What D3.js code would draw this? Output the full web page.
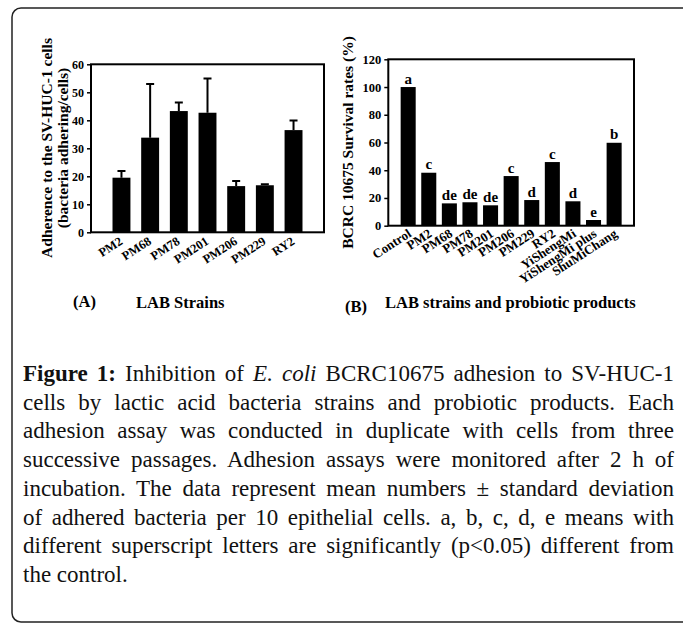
<!DOCTYPE html>
<html>
<head>
<meta charset="utf-8">
<script src="https://cdn.jsdelivr.net/npm/d3@7"></script>
<style>
  body { margin: 0; background: #fff; }
  svg text { font-family: "Liberation Serif", "Times New Roman", serif; }
</style>
</head>
<body>
<svg id="fig" width="683" height="625"></svg>
<script>
// panel A: adherence of LAB strains
const strainsA = ['PM2', 'PM68', 'PM78', 'PM201', 'PM206', 'PM229', 'RY2'];
const adherence = [19.5, 33.8, 43.3, 42.7, 16.5, 16.8, 36.5];
const adherenceSD = [2.4, 19.2, 3.1, 12.2, 1.8, 0.4, 3.4];
const ticksA = [0, 10, 20, 30, 40, 50, 60];

// panel B: survival rates
const productsB = ['Control', 'PM2', 'PM68', 'PM78', 'PM201', 'PM206', 'PM229', 'RY2',
  'YiShengMi', 'YiShengMi plus', 'ShuMiChang'];
const survival = [100, 38.2, 16.1, 16.9, 14.7, 35.8, 18.5, 45.9, 17.6, 4.1, 59.8];
const groupLetters = ['a', 'c', 'de', 'de', 'de', 'c', 'd', 'c', 'd', 'e', 'b'];
const ticksB = [0, 20, 40, 60, 80, 100, 120];

// caption, one entry per printed line
const captionLines = [
  [['b', 'Figure 1:'], ['n', ' Inhibition of '], ['i', 'E. coli'], ['n', ' BCRC10675 adhesion to SV-HUC-1']],
  [['n', 'cells by lactic acid bacteria strains and probiotic products. Each']],
  [['n', 'adhesion assay was conducted in duplicate with cells from three']],
  [['n', 'successive passages. Adhesion assays were monitored after 2 h of']],
  [['n', 'incubation. The data represent mean numbers \u00b1 standard deviation']],
  [['n', 'of adhered bacteria per 10 epithelial cells. a, b, c, d, e means with']],
  [['n', 'different superscript letters are significantly (p<0.05) different from']],
  [['n', 'the control.']]
];

const svg = d3.select('#fig');

// outer rounded frame (runs off the right edge)
svg.append('rect')
  .attr('x', 12).attr('y', 8)
  .attr('width', 720).attr('height', 614)
  .attr('rx', 9)
  .attr('fill', 'none')
  .attr('stroke', '#222')
  .attr('stroke-width', 1.5);

function panel(opts) {
  const g = svg.append('g');
  const x = d3.scaleBand()
    .domain(opts.cats)
    .range([opts.left, opts.right])
    .paddingInner(opts.padIn)
    .paddingOuter(opts.padOut);
  const y = d3.scaleLinear()
    .domain([0, opts.max])
    .range([opts.bottom, opts.top]);

  g.append('g')
    .attr('transform', `translate(${opts.left},0)`)
    .call(d3.axisLeft(y).tickValues(opts.ticks).tickSize(4).tickPadding(3))
    .call(a => a.select('.domain').remove())
    .call(a => a.selectAll('line').attr('stroke-width', 1.5))
    .call(a => a.selectAll('text')
      .style('font-family', 'Liberation Serif')
      .attr('font-weight', 'bold')
      .attr('font-size', opts.tickSize)
      .attr('fill', '#000'));

  g.selectAll('.bar')
    .data(opts.values)
    .enter().append('rect')
    .attr('x', (d, i) => x(opts.cats[i]))
    .attr('y', d => y(d))
    .attr('width', x.bandwidth())
    .attr('height', d => y(0) - y(d))
    .attr('fill', '#000');

  g.append('rect')
    .attr('x', opts.left).attr('y', opts.top)
    .attr('width', opts.right - opts.left)
    .attr('height', opts.bottom - opts.top)
    .attr('fill', 'none')
    .attr('stroke', '#000')
    .attr('stroke-width', 2);

  g.selectAll('.xlab')
    .data(opts.cats)
    .enter().append('text')
    .attr('transform', d => `translate(${x(d) + x.bandwidth() / 2 + opts.labDx},${opts.bottom + opts.labDy}) rotate(${opts.angle})`)
    .attr('text-anchor', 'end')
    .attr('font-weight', 'bold')
    .attr('font-size', opts.labSize)
    .text(d => d);

  return { g, x, y };
}

// ---- panel A ----
const A = panel({
  cats: strainsA, values: adherence, max: 60, ticks: ticksA,
  left: 91, right: 324, top: 64.3, bottom: 232.3,
  padIn: 0.375, padOut: 0.75, tickSize: 12, labSize: 12.5,
  labDx: 2, labDy: 11, angle: -33
});

A.g.selectAll('.err')
  .data(adherence)
  .enter().append('path')
  .attr('d', (d, i) => {
    const cx = A.x(strainsA[i]) + A.x.bandwidth() / 2;
    const top = A.y(d + adherenceSD[i]);
    return `M${cx},${A.y(d)}V${top}M${cx - 4},${top}H${cx + 4}`;
  })
  .attr('stroke', '#000')
  .attr('stroke-width', 2)
  .attr('fill', 'none');

A.g.append('text')
  .attr('transform', 'translate(52,148) rotate(-90)')
  .attr('text-anchor', 'middle')
  .attr('font-weight', 'bold')
  .attr('font-size', 15.5)
  .text('Adherence to the SV-HUC-1 cells');
A.g.append('text')
  .attr('transform', 'translate(68,148) rotate(-90)')
  .attr('text-anchor', 'middle')
  .attr('font-weight', 'bold')
  .attr('font-size', 15.5)
  .text('(bacteria adhering/cells)');
A.g.append('text')
  .attr('x', 73).attr('y', 307)
  .attr('font-weight', 'bold').attr('font-size', 16.5)
  .text('(A)');
A.g.append('text')
  .attr('x', 136).attr('y', 308)
  .attr('font-weight', 'bold').attr('font-size', 16.5)
  .text('LAB Strains');

// ---- panel B ----
const B = panel({
  cats: productsB, values: survival, max: 120, ticks: ticksB,
  left: 388.3, right: 634, top: 59.3, bottom: 225.7,
  padIn: 0.27, padOut: 0.6, tickSize: 12.5, labSize: 13,
  labDx: 4, labDy: 10, angle: -33
});

B.g.selectAll('.grp')
  .data(groupLetters)
  .enter().append('text')
  .attr('x', (d, i) => B.x(productsB[i]) + B.x.bandwidth() / 2)
  .attr('y', (d, i) => B.y(survival[i]) - 3.5)
  .attr('text-anchor', 'middle')
  .attr('font-weight', 'bold')
  .attr('font-size', 15)
  .text(d => d);

B.g.append('text')
  .attr('transform', 'translate(353,142.5) rotate(-90)')
  .attr('text-anchor', 'middle')
  .attr('font-weight', 'bold')
  .attr('font-size', 15.5)
  .text('BCRC 10675 Survival rates (%)');
B.g.append('text')
  .attr('x', 345).attr('y', 312)
  .attr('font-weight', 'bold').attr('font-size', 16.5)
  .text('(B)');
B.g.append('text')
  .attr('x', 385).attr('y', 308)
  .attr('font-weight', 'bold').attr('font-size', 16.5)
  .text('LAB strains and probiotic products');

// ---- caption, justified line by line ----
const capLeft = 23, capRight = 674, capTop = 381, capStep = 28.7, capSize = 23;
captionLines.forEach((parts, li) => {
  const t = svg.append('text')
    .attr('x', capLeft)
    .attr('y', capTop + li * capStep)
    .style('font-family', '"Liberation Serif", serif')
    .attr('font-size', capSize)
    .attr('fill', '#111');
  parts.forEach(([s, str]) => {
    t.append('tspan')
      .attr('font-weight', s === 'b' ? 'bold' : 'normal')
      .attr('font-style', s === 'i' ? 'italic' : 'normal')
      .text(str);
  });
  if (li < captionLines.length - 1) {
    const full = parts.map(p => p[1]).join('');
    const gaps = (full.match(/ /g) || []).length;
    const w = t.node().getComputedTextLength();
    t.style('word-spacing', ((capRight - capLeft - w) / gaps) + 'px');
  }
});
</script>
</body>
</html>
